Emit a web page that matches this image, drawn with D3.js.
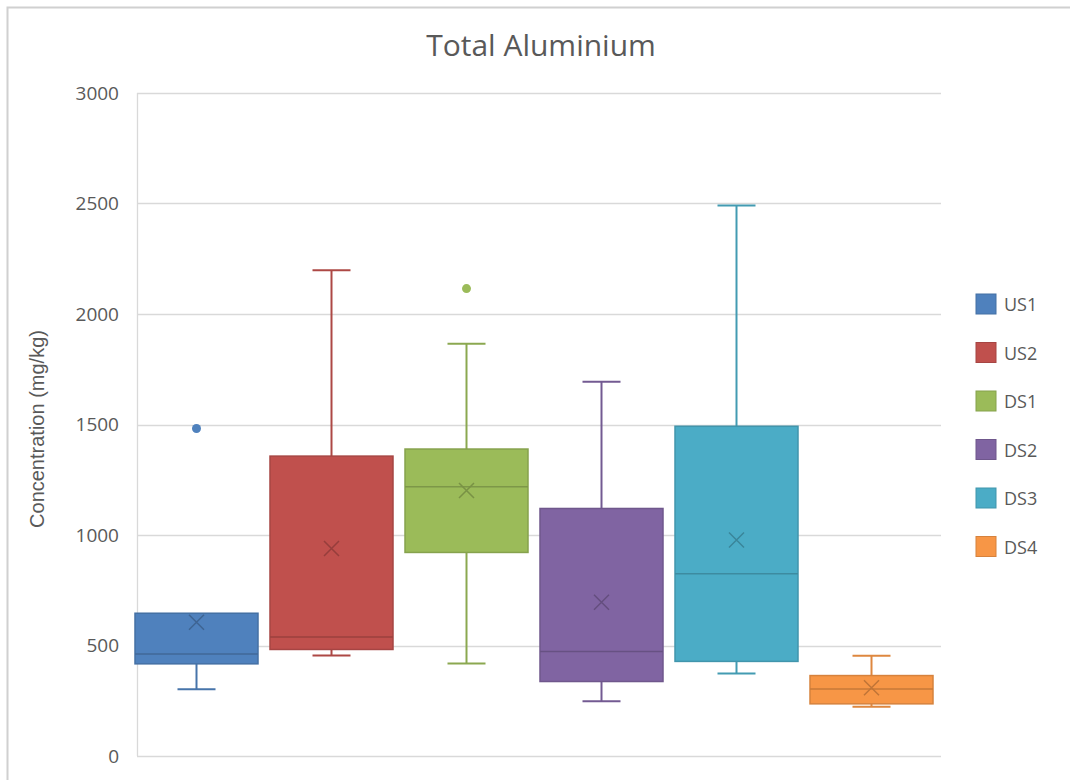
<!DOCTYPE html>
<html>
<head>
<meta charset="utf-8">
<script src="https://cdn.jsdelivr.net/npm/d3@7"></script>
<style>
  body { margin: 0; background: #fff; }
  svg { display: block; }
</style>
</head>
<body>
<div id="chart"></div>
<script>
// site names and box-plot stats (mg/kg)
const sites = ["US1", "US2", "DS1", "DS2", "DS3", "DS4"];
const colors = ["#4f81bd", "#c0504d", "#9bbb59", "#8064a2", "#4bacc6", "#f79646"];
const whiskerLow = [302, 455, 419, 248, 373, 223];
const q1 = [417, 482, 921, 337, 428, 236];
const median = [462, 538, 1218, 473, 825, 303];
const q3 = [646, 1357, 1389, 1120, 1492, 364];
const whiskerHigh = [646, 2198, 1865, 1694, 2491, 454];
const means = [605, 939, 1201, 696, 977, 309];
const outliers = [[1482], [], [2115], [], [], []];
const yTicks = [0, 500, 1000, 1500, 2000, 2500, 3000];

const W = 1070, H = 780;
const plot = {left: 137, right: 941, top: 93, bottom: 756};

const svg = d3.select("#chart").append("svg")
    .attr("width", W)
    .attr("height", H);

// chart frame (only top and left edges fall inside the picture)
svg.append("rect")
    .attr("x", 7.5).attr("y", 7.5)
    .attr("width", W + 20).attr("height", H + 20)
    .attr("fill", "#fff")
    .attr("stroke", "#d0d0d0")
    .attr("stroke-width", 2);

const y = d3.scaleLinear()
    .domain([0, 3000])
    .range([plot.bottom, plot.top]);

const x = d3.scalePoint()
    .domain(sites)
    .range([129, 939])
    .padding(0.5);

const boxW = 123;
const capW = 38;

// gridlines
svg.append("g")
    .selectAll("line")
    .data(yTicks)
    .join("line")
    .attr("x1", plot.left).attr("x2", plot.right)
    .attr("y1", d => Math.round(y(d)) + 0.5)
    .attr("y2", d => Math.round(y(d)) + 0.5)
    .attr("stroke", "#d9d9d9")
    .attr("stroke-width", 1.3);

// y axis line
svg.append("line")
    .attr("x1", plot.left + 0.5).attr("x2", plot.left + 0.5)
    .attr("y1", plot.top).attr("y2", plot.bottom)
    .attr("stroke", "#d9d9d9")
    .attr("stroke-width", 1.3);

// tick labels
const yAxis = svg.append("g")
    .attr("transform", `translate(${plot.left},0)`)
    .call(d3.axisLeft(y).tickValues(yTicks).tickFormat(d3.format("d")).tickSize(0).tickPadding(18));
yAxis.select(".domain").remove();
yAxis.selectAll("text")
    .attr("fill", "#595959")
    .style("font-family", "'Open Sans', 'Noto Sans', sans-serif")
    .style("font-size", "19px");

// boxes
const data = sites.map((s, i) => ({
    site: s, color: colors[i],
    lo: whiskerLow[i], q1: q1[i], med: median[i], q3: q3[i], hi: whiskerHigh[i],
    mean: means[i], out: outliers[i]
}));

const g = svg.append("g")
    .selectAll("g")
    .data(data)
    .join("g");

g.each(function(d) {
    const el = d3.select(this);
    const cx = x(d.site);
    const edge = d3.color(d.color).darker(0.4);
    const line = d3.color(d.color).darker(0.3);

    // whiskers
    el.append("line")
        .attr("x1", cx).attr("x2", cx)
        .attr("y1", y(d.q3)).attr("y2", y(d.hi))
        .attr("stroke", line).attr("stroke-width", 2);
    el.append("line")
        .attr("x1", cx).attr("x2", cx)
        .attr("y1", y(d.q1)).attr("y2", y(d.lo))
        .attr("stroke", line).attr("stroke-width", 2);
    if (d.hi > d.q3) {
        el.append("line")
            .attr("x1", cx - capW / 2).attr("x2", cx + capW / 2)
            .attr("y1", y(d.hi)).attr("y2", y(d.hi))
            .attr("stroke", line).attr("stroke-width", 2);
    }
    el.append("line")
        .attr("x1", cx - capW / 2).attr("x2", cx + capW / 2)
        .attr("y1", y(d.lo)).attr("y2", y(d.lo))
        .attr("stroke", line).attr("stroke-width", 2);

    // box
    el.append("rect")
        .attr("x", cx - boxW / 2)
        .attr("y", y(d.q3))
        .attr("width", boxW)
        .attr("height", y(d.q1) - y(d.q3))
        .attr("fill", d.color)
        .attr("stroke", edge)
        .attr("stroke-width", 1.5);

    // median
    el.append("line")
        .attr("x1", cx - boxW / 2).attr("x2", cx + boxW / 2)
        .attr("y1", y(d.med)).attr("y2", y(d.med))
        .attr("stroke", d3.color(d.color).darker(0.6))
        .attr("stroke-width", 1.5);

    // mean marker
    const m = 7.5, my = y(d.mean);
    el.append("path")
        .attr("d", `M${cx - m},${my - m}L${cx + m},${my + m}M${cx - m},${my + m}L${cx + m},${my - m}`)
        .attr("stroke", d3.color(d.color).darker(0.7))
        .attr("stroke-width", 1.5)
        .attr("fill", "none");

    // outliers
    el.selectAll("circle")
        .data(d.out)
        .join("circle")
        .attr("cx", cx)
        .attr("cy", v => y(v))
        .attr("r", 4.5)
        .attr("fill", d.color);
});

// title
svg.append("text")
    .attr("x", 541)
    .attr("y", 56)
    .attr("text-anchor", "middle")
    .attr("fill", "#595959")
    .style("font-family", "'Open Sans', 'Noto Sans', sans-serif")
    .style("font-size", "30px")
    .text("Total Aluminium");

// y axis title
svg.append("text")
    .attr("transform", "translate(44,429) rotate(-90)")
    .attr("text-anchor", "middle")
    .attr("fill", "#595959")
    .style("font-family", "'Liberation Sans', Arial, sans-serif")
    .style("font-size", "20px")
    .text("Concentration (mg/kg)");

// legend
const legend = svg.append("g")
    .attr("transform", "translate(976,294)");

sites.forEach((s, i) => {
    legend.append("rect")
        .attr("x", 0)
        .attr("y", i * 48.5)
        .attr("width", 20)
        .attr("height", 20)
        .attr("fill", colors[i])
        .attr("stroke", d3.color(colors[i]).darker(0.4))
        .attr("stroke-width", 1);
    legend.append("text")
        .attr("x", 28)
        .attr("y", i * 48.5 + 11)
        .attr("dy", ".35em")
        .attr("fill", "#595959")
        .style("font-family", "'Open Sans', 'Noto Sans', sans-serif")
        .style("font-size", "18px")
        .text(s);
});
</script>
</body>
</html>
